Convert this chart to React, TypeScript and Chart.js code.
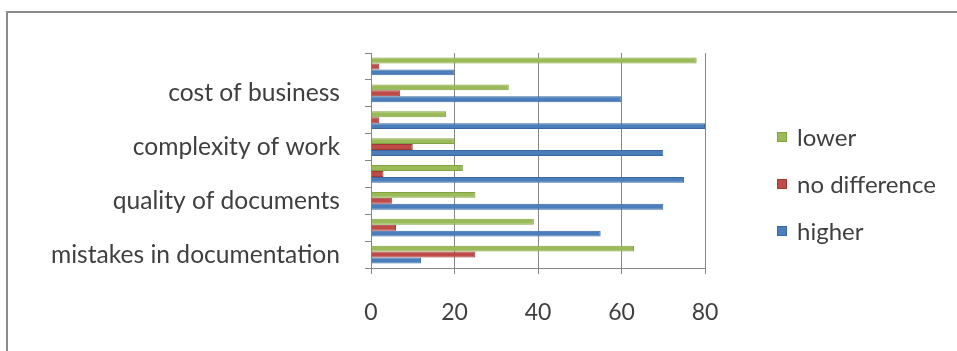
import React, { useEffect, useRef } from "react";
import { Chart, registerables } from "chart.js";

Chart.register(...registerables);

// Survey categories, bottom to top; every other row carries no printed label.
const categories = [
  "mistakes in documentation",
  "",
  "quality of documents",
  "",
  "complexity of work",
  "",
  "cost of business",
  "",
];

// Share of answers per row (percent).
const lower = [63, 39, 25, 22, 20, 18, 33, 78];
const noDifference = [25, 6, 5, 3, 10, 2, 7, 2];
const higher = [12, 55, 70, 75, 70, 80, 60, 20];

const seriesNames = ["lower", "no difference", "higher"];
const xMin = 0;
const xMax = 80;
const xStep = 20;

const TEXT = "#3f3f3f";
const GRID = "#868686";
const FONT = "Lato, 'Open Sans', sans-serif";

// Legend drawn at the right-hand side of the figure, one row per series.
const sideLegend = {
  id: "sideLegend",
  afterDraw(chart: any) {
    const ctx = chart.ctx as CanvasRenderingContext2D;
    const left = 777;
    const firstRow = 137;
    const rowStep = 47;
    const box = 10;
    ctx.save();
    ctx.font = `24px ${FONT}`;
    ctx.textBaseline = "middle";
    ctx.textAlign = "left";
    chart.data.datasets.forEach((ds: any, i: number) => {
      const cy = firstRow + i * rowStep;
      ctx.fillStyle = ds.backgroundColor;
      ctx.fillRect(left, cy - box / 2, box, box);
      ctx.strokeStyle = ds.borderColor;
      ctx.lineWidth = 1;
      ctx.strokeRect(left + 0.5, cy - box / 2 + 0.5, box - 1, box - 1);
      ctx.fillStyle = TEXT;
      ctx.fillText(ds.label, left + 20, cy + 1);
    });
    ctx.restore();
  },
};

export default function App() {
  const canvasRef = useRef<HTMLCanvasElement | null>(null);

  useEffect(() => {
    const canvas = canvasRef.current;
    if (!canvas) return;

    const chart = new Chart(canvas, {
      type: "bar",
      data: {
        labels: categories,
        datasets: [
          {
            label: seriesNames[0],
            data: lower,
            backgroundColor: "#9bbb59",
            borderColor: "#83a343",
            borderWidth: 1,
          },
          {
            label: seriesNames[1],
            data: noDifference,
            backgroundColor: "#be4b48",
            borderColor: "#a13a37",
            borderWidth: 1,
          },
          {
            label: seriesNames[2],
            data: higher,
            backgroundColor: "#4a7ebb",
            borderColor: "#3a69a2",
            borderWidth: 1,
          },
        ],
      },
      options: {
        indexAxis: "y",
        animation: false,
        responsive: false,
        maintainAspectRatio: false,
        layout: { padding: { left: 0, right: 252, top: 53, bottom: 0 } },
        datasets: { bar: { barPercentage: 1, categoryPercentage: 0.66 } },
        scales: {
          x: {
            min: xMin,
            max: xMax,
            ticks: {
              stepSize: xStep,
              padding: 25,
              color: TEXT,
              font: { family: FONT, size: 23 },
            },
            grid: { color: GRID, tickLength: 6, lineWidth: 1 },
            border: { color: GRID },
            afterFit: (s: any) => {
              s.height = 83;
            },
          },
          y: {
            reverse: true,
            ticks: {
              autoSkip: false,
              padding: 25,
              color: TEXT,
              font: { family: FONT, size: 24.6 },
            },
            grid: {
              drawOnChartArea: false,
              offset: true,
              tickLength: 6,
              color: GRID,
            },
            border: { color: GRID },
            afterFit: (s: any) => {
              s.width = 371;
            },
          },
        },
        plugins: {
          legend: { display: false },
          tooltip: { enabled: false },
        },
      },
      plugins: [sideLegend],
    });

    return () => chart.destroy();
  }, []);

  return (
    <div
      style={{
        position: "absolute",
        left: 0,
        top: 0,
        width: 957,
        height: 351,
        overflow: "hidden",
        background: "#ffffff",
      }}
    >
      <div
        style={{
          position: "absolute",
          left: 6,
          top: 11,
          width: 1000,
          height: 400,
          border: "2px solid #8c8c8c",
          boxSizing: "border-box",
        }}
      />
      <canvas
        ref={canvasRef}
        width={957}
        height={351}
        style={{ position: "absolute", left: 0, top: 0 }}
      />
    </div>
  );
}
